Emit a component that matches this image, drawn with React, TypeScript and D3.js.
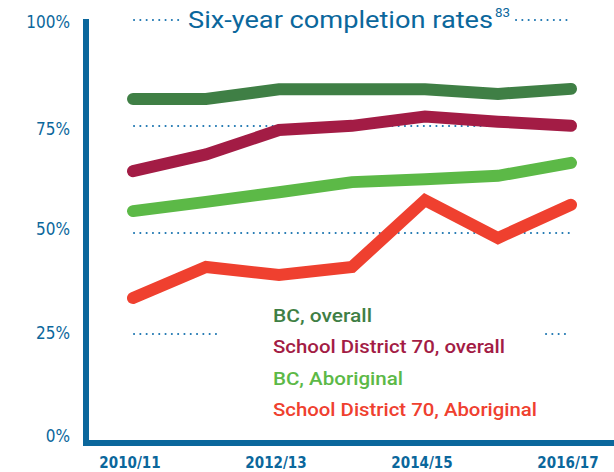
import React from "react";
import * as d3 from "d3";

const years = ["2010/11", "2011/12", "2012/13", "2013/14", "2014/15", "2015/16", "2016/17"];
const tickYears = ["2010/11", "2012/13", "2014/15", "2016/17"];
const yTicks = [0, 25, 50, 75, 100];
const bcOverall = [81.2, 81.2, 83.5, 83.5, 83.5, 82.4, 83.6];
const sd70Overall = [64, 68, 73.8, 74.8, 77, 75.8, 74.8];
const bcAboriginal = [54.5, 56.7, 59, 61.4, 62.1, 62.9, 66];
const sd70Aboriginal = [33.8, 41.2, 39.3, 41.2, 57.1, 48.1, 56];
const seriesNames = ["BC, overall", "School District 70, overall", "BC, Aboriginal", "School District 70, Aboriginal"];
const seriesColors = ["#3f7f45", "#a31c45", "#5cb947", "#ef402f"];
const legendWidths = [99, 232, 130, 264];

const BLUE = "#0b679c";
const FONT = "'DejaVu Sans Condensed', 'Liberation Sans Narrow', Roboto, sans-serif";
const FONT2 = "Roboto, 'DejaVu Sans', sans-serif";

export default function App() {
  const W = 614, H = 472;
  const x = d3.scalePoint<string>().domain(years).range([133, 571]);
  const y = d3.scaleLinear().domain([0, 100]).range([440, 20]);
  const line = d3.line<number>().x((_, i) => x(years[i])!).y((d) => y(d));
  const all = [bcOverall, sd70Overall, bcAboriginal, sd70Aboriginal];

  const dotted = (x1: number, x2: number, yy: number, key: string) => (
    <line key={key} x1={x1} x2={x2} y1={yy} y2={yy} stroke="#1b75b0" strokeWidth={2}
      strokeDasharray="0.1 6.2" strokeLinecap="round" />
  );

  return (
    <svg width={W} height={H} style={{ position: "absolute", left: 0, top: 0, background: "#fff" }}>
      {/* gridlines */}
      {dotted(134, 183, y(100), "g100a")}
      {dotted(516, 572, y(100), "g100b")}
      {dotted(134, 572, y(75) + 1, "g75")}
      {dotted(134, 572, y(50) + 3, "g50")}
      {dotted(134, 220, y(25) - 1, "g25a")}
      {dotted(546, 568, y(25) - 1, "g25b")}
      {/* series */}
      {all.map((s, i) => (
        <path key={i} d={line(s)!} fill="none" stroke={seriesColors[i]} strokeWidth={12}
          strokeLinecap="round" strokeLinejoin="miter" />
      ))}
      {/* axes */}
      <line x1={86} x2={86} y1={19} y2={446} stroke={BLUE} strokeWidth={6} />
      <line x1={83} x2={614} y1={443} y2={443} stroke={BLUE} strokeWidth={6} />
      {/* y tick labels */}
      {yTicks.map((t) => (
        <text key={t} x={70} y={y(t) + (t === 0 ? -4 : t === 100 ? 2 : t === 25 ? -2 : t === 50 ? -1 : 4) + 6}
          textAnchor="end" fontFamily={FONT} fontSize={17} fill={BLUE}>{t}%</text>
      ))}
      {/* x tick labels */}
      {tickYears.map((t) => (
        <text key={t} x={x(t)! - 3} y={468} textAnchor="middle" fontFamily={FONT} fontSize={15}
          fontWeight="bold" fill={BLUE}>{t}</text>
      ))}
      {/* title */}
      <text x={188} y={28} fontFamily={FONT2} fontSize={24} fontWeight={400} fill={BLUE}
        textLength={305} lengthAdjust="spacingAndGlyphs">
        Six-year completion rates
      </text>
      <text x={495} y={17} fontFamily={FONT2} fontSize={12} fill={BLUE}
        textLength={15} lengthAdjust="spacingAndGlyphs">83</text>
      {/* legend */}
      {seriesNames.map((n, i) => (
        <text key={n} x={273} y={322 + i * 31.4} fontFamily={FONT2} fontSize={19} fontWeight={500}
          fill={seriesColors[i]} textLength={legendWidths[i]} lengthAdjust="spacingAndGlyphs">{n}</text>
      ))}
    </svg>
  );
}
